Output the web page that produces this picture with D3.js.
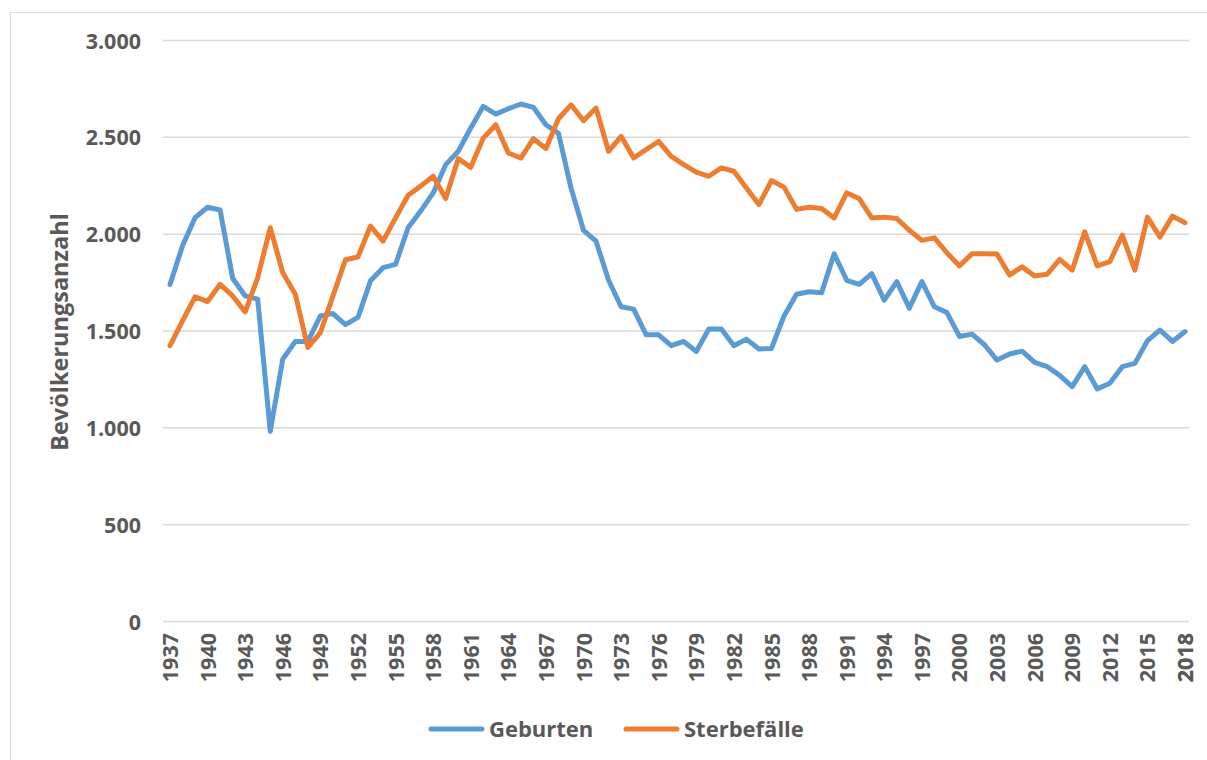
<!DOCTYPE html>
<html>
<head>
<meta charset="utf-8">
<script src="https://cdn.jsdelivr.net/npm/d3@7/dist/d3.min.js"></script>
<style>
  html, body { margin: 0; padding: 0; background: #fff; }
  svg { display: block; }
  text { font-family: "Open Sans", "Noto Sans", sans-serif; font-weight: 700; fill: #595959; }
</style>
</head>
<body>
<svg id="chart" width="1207" height="760"></svg>
<script>
const years = d3.range(1937, 2019);
const tickYears = d3.range(1937, 2019, 3);
const yTicks = [0, 500, 1000, 1500, 2000, 2500, 3000];
const seriesNames = ["Geburten", "Sterbefälle"];
const geburten = [
  1740, 1940, 2085, 2139, 2125, 1772, 1681, 1664, 982, 1355,
  1446, 1446, 1578, 1590, 1533, 1570, 1759, 1827, 1844, 2033,
  2119, 2213, 2359, 2428, 2548, 2660, 2620, 2648, 2672, 2655,
  2565, 2521, 2239, 2020, 1964, 1762, 1625, 1613, 1480, 1480,
  1424, 1446, 1394, 1510, 1510, 1424, 1458, 1407, 1410, 1578,
  1690, 1703, 1698, 1899, 1762, 1741, 1796, 1659, 1755, 1618,
  1755, 1625, 1595, 1472, 1484, 1429, 1350, 1381, 1396, 1338,
  1316, 1271, 1213, 1316, 1201, 1230, 1316, 1333, 1450, 1505,
  1446, 1497
];
const sterbefaelle = [
  1424, 1552, 1676, 1652, 1741, 1681, 1599, 1776, 2033, 1801,
  1690, 1415, 1492, 1680, 1868, 1882, 2042, 1964, 2084, 2201,
  2248, 2299, 2184, 2390, 2345, 2496, 2565, 2419, 2393, 2493,
  2442, 2596, 2668, 2586, 2651, 2428, 2505, 2393, 2437, 2479,
  2402, 2359, 2320, 2299, 2342, 2325, 2239, 2153, 2277, 2243,
  2128, 2139, 2133, 2084, 2213, 2184, 2084, 2088, 2081, 2020,
  1968, 1981, 1904, 1836, 1899, 1899, 1897, 1789, 1831, 1784,
  1793, 1870, 1814, 2012, 1836, 1858, 1995, 1814, 2088, 1985,
  2093, 2059
];
const colors = ["#5B9BD5", "#ED7D31"];

const svg = d3.select("#chart");

// outer chart border
svg.append("rect").attr("x", 10.5).attr("y", 12.5).attr("width", 1210).attr("height", 760)
  .attr("fill", "none").attr("stroke", "#d9d9d9").attr("stroke-width", 1);

const x = d3.scaleLinear().domain([1937, 2018]).range([170, 1185]);
const y = d3.scaleLinear().domain([0, 3000]).range([621.5, 40.5]);
const gridX0 = 163, gridX1 = 1189;

const fmt = d3.formatLocale({ decimal: ",", thousands: ".", grouping: [3], currency: ["", "€"] }).format(",d");

// gridlines
svg.append("g").selectAll("line").data(yTicks).join("line")
  .attr("x1", gridX0).attr("x2", gridX1)
  .attr("y1", d => y(d)).attr("y2", d => y(d))
  .attr("stroke", "#d9d9d9").attr("stroke-width", 1.5);

// y axis labels
const yAxis = d3.axisLeft(y).tickValues(yTicks).tickFormat(fmt).tickSize(0).tickPadding(0);
const gy = svg.append("g").attr("transform", "translate(141,0)").call(yAxis);
gy.select(".domain").remove();
gy.selectAll("text").attr("font-size", 21.5).attr("dy", "0.35em")
  .style("font-family", "'Open Sans', sans-serif").style("font-weight", 700).attr("fill", "#595959");

// x axis labels
const xAxis = d3.axisBottom(x).tickValues(tickYears.concat([2018])).tickFormat(d3.format("d")).tickSize(0).tickPadding(0);
const gx = svg.append("g").attr("transform", "translate(0,633)").call(xAxis);
gx.select(".domain").remove();
gx.selectAll("text")
  .attr("transform", "rotate(-90)")
  .attr("text-anchor", "end")
  .attr("x", 0).attr("y", 0).attr("dy", "0.35em")
  .attr("font-size", 21.5)
  .style("font-family", "'Open Sans', sans-serif").style("font-weight", 700).attr("fill", "#595959");

// y title
svg.append("text")
  .attr("transform", "translate(68,332) rotate(-90)")
  .attr("text-anchor", "middle")
  .attr("font-size", 23.5)
  .text("Bevölkerungsanzahl");

// lines
const line = d3.line().x((d, i) => x(years[i])).y(d => y(d));
[geburten, sterbefaelle].forEach((s, i) => {
  svg.append("path").datum(s)
    .attr("fill", "none").attr("stroke", colors[i]).attr("stroke-width", 5)
    .attr("stroke-linejoin", "round").attr("stroke-linecap", "round")
    .attr("d", line);
});

// legend
const legendItems = [
  { name: seriesNames[0], color: colors[0], x0: 431 },
  { name: seriesNames[1], color: colors[1], x0: 626 }
];
const lg = svg.append("g");
legendItems.forEach(it => {
  lg.append("line").attr("x1", it.x0).attr("x2", it.x0 + 51).attr("y1", 729).attr("y2", 729)
    .attr("stroke", it.color).attr("stroke-width", 5).attr("stroke-linecap", "round");
  lg.append("text").attr("x", it.x0 + 58).attr("y", 729).attr("dy", "0.35em")
    .attr("font-size", 22).text(it.name);
});
</script>
</body>
</html>
